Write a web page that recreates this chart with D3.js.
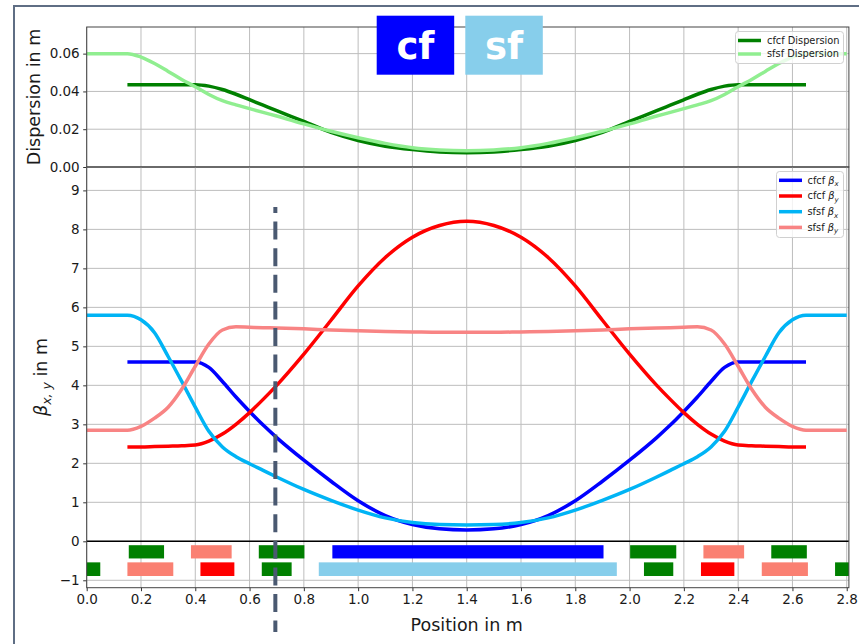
<!DOCTYPE html>
<html>
<head>
<meta charset="utf-8">
<script src="https://cdn.jsdelivr.net/npm/d3@7"></script>
<style>
  body { margin: 0; background: #fff; }
  svg { display: block; }
  text { font-family: "DejaVu Sans", sans-serif; fill: #1a1a1a; }
</style>
</head>
<body>
<svg id="chart" width="859" height="644"></svg>
<script>
// Longitudinal positions (m) shared by the optics functions
const positions = [0, 0.15, 0.2, 0.25, 0.3, 0.35, 0.4, 0.45, 0.5, 0.55, 0.6, 0.65, 0.7,
  0.8, 0.9, 1.0, 1.1, 1.2, 1.3, 1.4, 1.5, 1.6, 1.7, 1.8, 1.9, 2.0, 2.1, 2.15, 2.2,
  2.25, 2.3, 2.35, 2.4, 2.45, 2.5, 2.55, 2.6, 2.65, 2.8];

// Dispersion (m)
const cfcfDispersion = [null, 0.0436, 0.0436, 0.0436, 0.0436, 0.0436, 0.0436, 0.0428, 0.0410,
  0.0385, 0.0356, 0.0327, 0.0298, 0.0241, 0.0183, 0.0140, 0.0110, 0.0092, 0.0080, 0.0076,
  0.0080, 0.0092, 0.0110, 0.0140, 0.0183, 0.0241, 0.0298, 0.0327, 0.0356, 0.0385, 0.0410,
  0.0428, 0.0436, 0.0436, 0.0436, 0.0436, 0.0436, 0.0436, null];
const sfsfDispersion = [0.0600, 0.0600, 0.0582, 0.0548, 0.0506, 0.0463, 0.0425, 0.0384, 0.0351,
  0.0329, 0.0309, 0.0289, 0.0270, 0.0228, 0.0189, 0.0155, 0.0125, 0.0102, 0.0090, 0.0086,
  0.0090, 0.0102, 0.0125, 0.0155, 0.0189, 0.0228, 0.0270, 0.0289, 0.0309, 0.0329, 0.0351,
  0.0384, 0.0425, 0.0463, 0.0506, 0.0548, 0.0582, 0.0600, 0.0600];

// Beta functions (m)
const cfcfBetaX = [null, 4.60, 4.60, 4.60, 4.60, 4.60, 4.60, 4.46, 4.10, 3.70, 3.33, 2.98, 2.66,
  2.08, 1.54, 1.04, 0.66, 0.43, 0.32, 0.29, 0.32, 0.43, 0.66, 1.04, 1.54, 2.08, 2.66, 2.98,
  3.33, 3.70, 4.10, 4.46, 4.60, 4.60, 4.60, 4.60, 4.60, 4.60, null];
const cfcfBetaY = [null, 2.42, 2.42, 2.43, 2.44, 2.45, 2.47, 2.57, 2.75, 3.00, 3.30, 3.64, 4.00,
  4.80, 5.67, 6.55, 7.28, 7.80, 8.10, 8.21, 8.10, 7.80, 7.28, 6.55, 5.67, 4.80, 4.00, 3.64,
  3.30, 3.00, 2.75, 2.57, 2.47, 2.45, 2.44, 2.43, 2.42, 2.42, null];
const sfsfBetaX = [5.80, 5.80, 5.68, 5.35, 4.74, 4.10, 3.44, 2.82, 2.42, 2.17, 1.99, 1.82, 1.65,
  1.33, 1.05, 0.80, 0.60, 0.48, 0.43, 0.42, 0.43, 0.48, 0.60, 0.80, 1.05, 1.33, 1.65, 1.82,
  1.99, 2.17, 2.42, 2.82, 3.44, 4.10, 4.74, 5.35, 5.68, 5.80, 5.80];
const sfsfBetaY = [2.85, 2.85, 2.95, 3.16, 3.44, 3.90, 4.49, 5.06, 5.42, 5.50, 5.49, 5.48, 5.47,
  5.45, 5.42, 5.40, 5.38, 5.37, 5.36, 5.36, 5.36, 5.37, 5.38, 5.40, 5.42, 5.45, 5.47, 5.48,
  5.49, 5.50, 5.42, 5.06, 4.49, 3.90, 3.44, 3.16, 2.95, 2.85, 2.85];

// Lattice elements: start/end (m), row (0 = cfcf, 1 = sfsf), element kind
const magnetStart = [0.155, 0.384, 0.634, 0.905, 2.002, 2.272, 2.522,
  0.0, 0.15, 0.419, 0.645, 0.855, 2.053, 2.263, 2.487, 2.757];
const magnetEnd = [0.285, 0.534, 0.802, 1.904, 2.172, 2.422, 2.653,
  0.05, 0.319, 0.544, 0.755, 1.953, 2.161, 2.386, 2.657, 2.85];
const magnetRow = [0, 0, 0, 0, 0, 0, 0, 1, 1, 1, 1, 1, 1, 1, 1, 1];
const magnetKind = ["QA", "QB", "QA", "CF", "QA", "QB", "QA",
  "QA", "QB", "QC", "QA", "SF", "QA", "QC", "QB", "QA"];

// Tick values
const xTicks = [0, 0.2, 0.4, 0.6, 0.8, 1.0, 1.2, 1.4, 1.6, 1.8, 2.0, 2.2, 2.4, 2.6, 2.8];
const dispTicks = [0, 0.02, 0.04, 0.06];
const betaTicks = [-1, 0, 1, 2, 3, 4, 5, 6, 7, 8, 9];

const dispLabels = ["cfcf Dispersion", "sfsf Dispersion"];
const betaLabels = [["cfcf", "x"], ["cfcf", "y"], ["sfsf", "x"], ["sfsf", "y"]];
const cursorPosition = 0.695;

// ---------------------------------------------------------------------------
const svg = d3.select("#chart");
const kindColor = { QA: "#008000", QB: "#fa8072", QC: "#ff0000", CF: "#0000ff", SF: "#87ceeb" };
const colors = {
  cfcfD: "#008000", sfsfD: "#90ee90",
  cfcfX: "#0000ff", cfcfY: "#ff0000", sfsfX: "#00b4f5", sfsfY: "#f88484"
};

const plotL = 86.7, plotR = 848.9;
const x = d3.scaleLinear().domain([0, 2.808]).range([plotL, plotR]);
const yTop = d3.scaleLinear().domain([0, 0.0741]).range([167, 27]);
const yBot = d3.scaleLinear().domain([-1.19, 9.6]).range([587.7, 167]);

// outer frame
svg.append("rect").attr("x", 14).attr("y", 6).attr("width", 900).attr("height", 700)
  .attr("fill", "none").attr("stroke", "#5f6e84").attr("stroke-width", 2);

const defs = svg.append("defs");
defs.append("clipPath").attr("id", "clipTop").append("rect")
  .attr("x", plotL).attr("y", 27).attr("width", plotR - plotL).attr("height", 140);
defs.append("clipPath").attr("id", "clipBot").append("rect")
  .attr("x", plotL).attr("y", 167).attr("width", plotR - plotL).attr("height", 587.7 - 167);

const gridColor = "#bdbdbd";

function drawGrid(g, yScale, yVals, y0, y1) {
  g.selectAll(".vg").data(xTicks).join("line")
    .attr("x1", d => x(d)).attr("x2", d => x(d)).attr("y1", y0).attr("y2", y1)
    .attr("stroke", gridColor).attr("stroke-width", 1);
  g.selectAll(".hg").data(yVals).join("line")
    .attr("x1", plotL).attr("x2", plotR).attr("y1", d => yScale(d)).attr("y2", d => yScale(d))
    .attr("stroke", gridColor).attr("stroke-width", 1);
}

// ---------------- top panel: dispersion ----------------
const gTop = svg.append("g");
drawGrid(gTop.append("g"), yTop, dispTicks, 27, 167);

function lineFor(yScale, values) {
  return d3.line()
    .defined((d, i) => values[i] != null)
    .x((d, i) => x(positions[i]))
    .y((d, i) => yScale(values[i]))
    .curve(d3.curveMonotoneX)(positions);
}

const topLines = gTop.append("g").attr("clip-path", "url(#clipTop)");
[[cfcfDispersion, colors.cfcfD], [sfsfDispersion, colors.sfsfD]].forEach(([vals, c]) => {
  topLines.append("path").attr("d", lineFor(yTop, vals))
    .attr("fill", "none").attr("stroke", c).attr("stroke-width", 3.5)
    .attr("stroke-linejoin", "round");
});

gTop.append("g").attr("transform", `translate(${plotL},0)`)
  .call(d3.axisLeft(yTop).tickValues(dispTicks).tickFormat(d3.format(".2f")).tickSize(3.5).tickPadding(3.5))
  .call(g => g.select(".domain").remove())
  .call(g => g.selectAll("line").attr("stroke", "#333"))
  .call(g => g.selectAll("text").attr("font-size", 13.5).attr("font-family", "DejaVu Sans").attr("fill", "#1a1a1a"));

gTop.append("rect").attr("x", plotL).attr("y", 27).attr("width", plotR - plotL).attr("height", 140)
  .attr("fill", "none").attr("stroke", "#444").attr("stroke-width", 1);

gTop.append("text").attr("transform", "translate(39.5,97) rotate(-90)")
  .attr("text-anchor", "middle").attr("font-size", 17.5).text("Dispersion in m");

// dispersion legend
const leg1 = svg.append("g");
leg1.append("rect").attr("x", 735.5).attr("y", 31.5).attr("width", 108).attr("height", 32).attr("rx", 3)
  .attr("fill", "#fff").attr("fill-opacity", 0.8).attr("stroke", "#d0d0d0");
[colors.cfcfD, colors.sfsfD].forEach((c, i) => {
  const yy = 40.5 + i * 13.5;
  leg1.append("line").attr("x1", 738).attr("x2", 761).attr("y1", yy).attr("y2", yy)
    .attr("stroke", c).attr("stroke-width", 3.5);
  leg1.append("text").attr("x", 767).attr("y", yy).attr("dy", "0.35em")
    .attr("font-size", 9.8).text(dispLabels[i]);
});

// ---------------- lower panel: beta functions ----------------
const gBot = svg.append("g");
drawGrid(gBot.append("g"), yBot, betaTicks, 167, 587.7);

const botLines = gBot.append("g").attr("clip-path", "url(#clipBot)");

// lattice element bars
const rowTop = [-0.1, -0.54], rowBottom = [-0.44, -0.89];
botLines.append("g").selectAll("rect").data(magnetStart).join("rect")
  .attr("x", (d, i) => x(magnetStart[i]))
  .attr("width", (d, i) => x(magnetEnd[i]) - x(magnetStart[i]))
  .attr("y", (d, i) => yBot(rowTop[magnetRow[i]]))
  .attr("height", (d, i) => yBot(rowBottom[magnetRow[i]]) - yBot(rowTop[magnetRow[i]]))
  .attr("fill", (d, i) => kindColor[magnetKind[i]]);

// zero line
botLines.append("line").attr("x1", plotL).attr("x2", plotR)
  .attr("y1", yBot(0)).attr("y2", yBot(0)).attr("stroke", "#000").attr("stroke-width", 1.5);

[[cfcfBetaX, colors.cfcfX], [cfcfBetaY, colors.cfcfY], [sfsfBetaX, colors.sfsfX], [sfsfBetaY, colors.sfsfY]]
  .forEach(([vals, c]) => {
    botLines.append("path").attr("d", lineFor(yBot, vals))
      .attr("fill", "none").attr("stroke", c).attr("stroke-width", 3.5)
      .attr("stroke-linejoin", "round");
  });

gBot.append("g").attr("transform", `translate(${plotL},0)`)
  .call(d3.axisLeft(yBot).tickValues(betaTicks).tickFormat(d3.format("d")).tickSize(3.5).tickPadding(3.5))
  .call(g => g.select(".domain").remove())
  .call(g => g.selectAll("line").attr("stroke", "#333"))
  .call(g => g.selectAll("text").attr("font-size", 13.5).attr("font-family", "DejaVu Sans").attr("fill", "#1a1a1a"));

gBot.append("g").attr("transform", "translate(0,587.7)")
  .call(d3.axisBottom(x).tickValues(xTicks).tickFormat(d3.format(".1f")).tickSize(3.5).tickPadding(3.5))
  .call(g => g.select(".domain").remove())
  .call(g => g.selectAll("line").attr("stroke", "#333"))
  .call(g => g.selectAll("text").attr("font-size", 13.5).attr("font-family", "DejaVu Sans").attr("fill", "#1a1a1a"));

gBot.append("rect").attr("x", plotL).attr("y", 167).attr("width", plotR - plotL).attr("height", 587.7 - 167)
  .attr("fill", "none").attr("stroke", "#444").attr("stroke-width", 1);

gBot.append("text").attr("x", x(1.4)).attr("y", 631).attr("text-anchor", "middle")
  .attr("font-size", 17.5).text("Position in m");

const betaLabel = gBot.append("text").attr("transform", "translate(47,377) rotate(-90)")
  .attr("text-anchor", "middle").attr("font-size", 17.5);
betaLabel.append("tspan").attr("font-style", "italic").text("β");
betaLabel.append("tspan").attr("font-style", "italic").attr("font-size", 12.5).attr("dy", 4).text("x, y");
betaLabel.append("tspan").attr("dy", -4).text(" in m");

// beta legend
const leg2 = svg.append("g");
leg2.append("rect").attr("x", 776.5).attr("y", 171.5).attr("width", 67).attr("height", 66).attr("rx", 3)
  .attr("fill", "#fff").attr("fill-opacity", 0.8).attr("stroke", "#d0d0d0");
[colors.cfcfX, colors.cfcfY, colors.sfsfX, colors.sfsfY].forEach((c, i) => {
  const yy = 180.3 + i * 15.7;
  leg2.append("line").attr("x1", 779).attr("x2", 802).attr("y1", yy).attr("y2", yy)
    .attr("stroke", c).attr("stroke-width", 3.5);
  const t = leg2.append("text").attr("x", 807.5).attr("y", yy).attr("dy", "0.35em").attr("font-size", 9.8);
  t.append("tspan").text(betaLabels[i][0] + " ");
  t.append("tspan").attr("font-style", "italic").text("β");
  t.append("tspan").attr("font-style", "italic").attr("font-size", 7).attr("dy", 2.5).text(betaLabels[i][1]);
});

// cell-type badges
const badges = [["cf", "#0000ff", 376.7], ["sf", "#87ceeb", 465.3]];
badges.forEach(([label, fill, bx]) => {
  svg.append("rect").attr("x", bx).attr("y", 15.7).attr("width", 77.5).attr("height", 59).attr("fill", fill);
  svg.append("text").attr("x", bx + 38.7).attr("y", 58.5).attr("text-anchor", "middle")
    .attr("font-family", "Roboto, sans-serif").attr("font-weight", 700).attr("font-size", 37)
    .style("fill", "#fff").text(label);
});

// cursor marker
svg.append("line").attr("x1", x(cursorPosition)).attr("x2", x(cursorPosition))
  .attr("y1", 207).attr("y2", 632)
  .attr("stroke", "#4a5971").attr("stroke-width", 4)
  .attr("stroke-dasharray", "18,8.6").attr("stroke-dashoffset", 12);
</script>
</body>
</html>
